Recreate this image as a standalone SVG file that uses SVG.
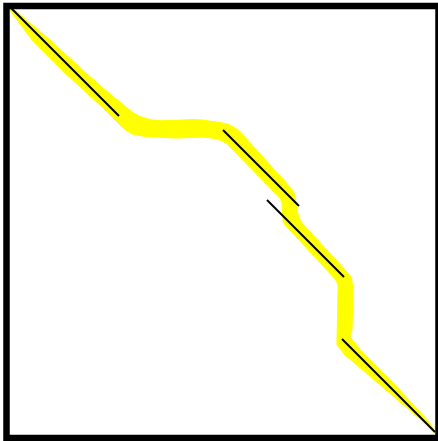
<svg xmlns="http://www.w3.org/2000/svg" width="438" height="441" viewBox="0 0 438 441">
  <style>
    .frame { fill: none; stroke: #000; stroke-width: 6.5; }
    .hl { fill: #ffff00; stroke: #ffff00; stroke-width: 1; stroke-linejoin: round; }
    .seg { stroke: #000; stroke-width: 2; fill: none; }
  </style>
  <rect width="438" height="441" fill="#fff"/>
  <g id="highlight">
    <path class="hl" d="M10,6 L50,40 L87,74 L110,94 L120,102 L126,107 L132,112 L140,116.5 L150,119.5 L160,120.8 L177,120.3 L193,119.5 L203,120 L210,121.2 L220,122.5 L228,124.2 L236,128.5 L243,135 L290,187 Q294,191 295,196 L297,210 Q298,217 302,223 L347,272 Q352,277 352,281 L353,290 L352,330 L350,337 L363,353 L397,387 L430,423 L436,433 L434,433 L427,425 L345,355 L337,345 L337,340 L338,290 Q339,285 336,280 L288,228 Q283,224 283,220 L282,203 Q281,198 277,195 L230,147 L226,143 L220,140 L212,138 L203,137 L190,137.6 L177,138 L160,137.3 L150,136.7 L141,135.8 L133,134.3 L127,131 L122,127 L115,120 L102,107 L65,73 L32,40 L9,9 Z"/>
  </g>
  <g id="segments">
    <line class="seg" x1="11" y1="8" x2="119" y2="116"/>
    <line class="seg" x1="223" y1="130" x2="299" y2="206"/>
    <line class="seg" x1="267" y1="200" x2="344" y2="277"/>
    <line class="seg" x1="342" y1="339" x2="435" y2="432"/>
  </g>
  <rect class="frame" x="6.5" y="6" width="432" height="432"/>
</svg>
